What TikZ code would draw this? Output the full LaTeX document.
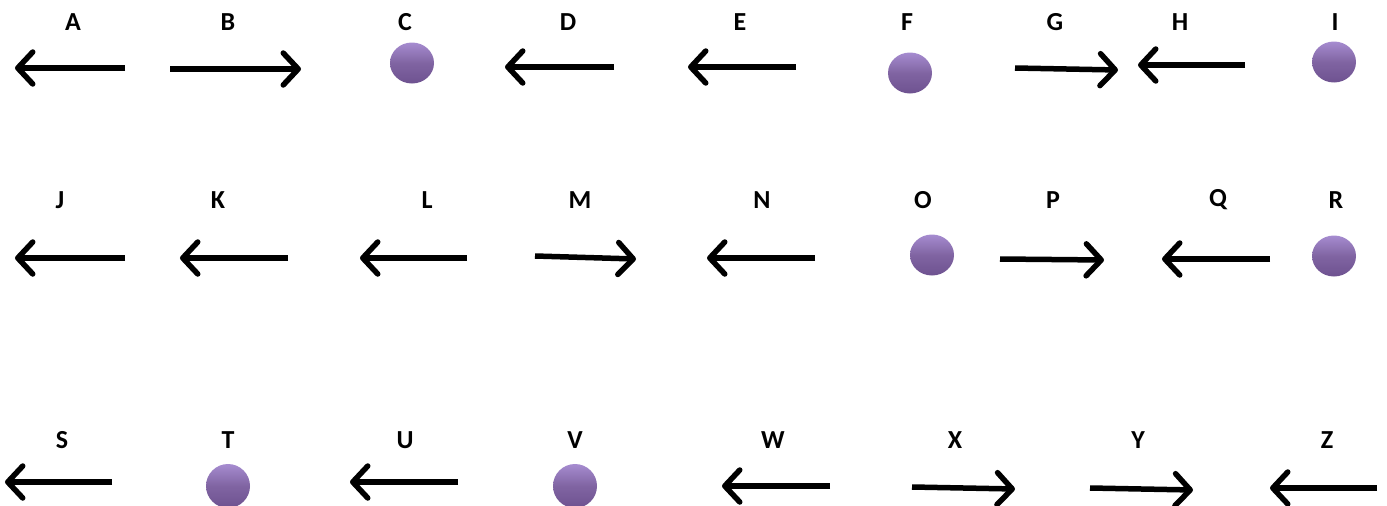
\documentclass[tikz,border=0pt]{standalone}
\usepackage{fontspec}
\setmainfont{Carlito}
\usetikzlibrary{arrows.meta,shapes.geometric}
\definecolor{dotmid}{HTML}{8064A2}
\definecolor{dottop}{HTML}{A68CD0}
\definecolor{dotbot}{HTML}{6E5290}
\tikzset{
  lbl/.style={font=\bfseries\fontsize{26}{30}\selectfont, text=black, inner sep=0pt},
  arr/.style={line width=5.5pt, -{Straight Barb[length=15pt,width=32pt,line width=5.5pt,round]}},
  dot/.style={ellipse, minimum width=44pt, minimum height=41pt, inner sep=0pt,
    top color=dottop, bottom color=dotbot, middle color=dotmid, draw=none},
}
\begin{document}
\begin{tikzpicture}[x=1pt,y=-1pt]
\useasboundingbox (0,0) rectangle (1387,506);
% Row 1
\node[lbl] (A) at (73,22) {A};
\coordinate (a1) at (125,68); \coordinate (a2) at (15,68);
\draw[arr] (a1) -- (a2);
\node[lbl] (B) at (228,22) {B};
\coordinate (b1) at (170,69); \coordinate (b2) at (301,69);
\draw[arr] (b1) -- (b2);
\node[lbl] (C) at (405,22) {C};
\node[dot] (c) at (412,63) {};
\node[lbl] (D) at (568,22) {D};
\coordinate (d1) at (614,67); \coordinate (d2) at (505,67);
\draw[arr] (d1) -- (d2);
\node[lbl] (E) at (740,22) {E};
\coordinate (e1) at (796,67); \coordinate (e2) at (688,67);
\draw[arr] (e1) -- (e2);
\node[lbl] (F) at (907,22) {F};
\node[dot] (f) at (910,73) {};
\node[lbl] (G) at (1055,22) {G};
\coordinate (g1) at (1015,68); \coordinate (g2) at (1118,70);
\draw[arr] (g1) -- (g2);
\node[lbl] (H) at (1180,22) {H};
\coordinate (h1) at (1245,65); \coordinate (h2) at (1138,65);
\draw[arr] (h1) -- (h2);
\node[lbl] (I) at (1335,22) {I};
\node[dot] (i) at (1334,62) {};
% Row 2
\node[lbl] (J) at (60,200) {J};
\coordinate (j1) at (125,258); \coordinate (j2) at (15,258);
\draw[arr] (j1) -- (j2);
\node[lbl] (K) at (218,200) {K};
\coordinate (k1) at (288,258); \coordinate (k2) at (180,258);
\draw[arr] (k1) -- (k2);
\node[lbl] (L) at (427,200) {L};
\coordinate (l1) at (467,258); \coordinate (l2) at (360,258);
\draw[arr] (l1) -- (l2);
\node[lbl] (M) at (580,200) {M};
\coordinate (m1) at (535,256); \coordinate (m2) at (636,259);
\draw[arr] (m1) -- (m2);
\node[lbl] (N) at (762,200) {N};
\coordinate (n1) at (815,258); \coordinate (n2) at (707,258);
\draw[arr] (n1) -- (n2);
\node[lbl] (O) at (923,200) {O};
\node[dot] (o) at (932,255) {};
\node[lbl] (P) at (1053,200) {P};
\coordinate (p1) at (1000,259); \coordinate (p2) at (1104,260);
\draw[arr] (p1) -- (p2);
\node[lbl] (Q) at (1218,200) {Q};
\coordinate (q1) at (1270,259); \coordinate (q2) at (1162,259);
\draw[arr] (q1) -- (q2);
\node[lbl] (R) at (1336,200) {R};
\node[dot] (r) at (1334,256) {};
% Row 3
\node[lbl] (S) at (62,440) {S};
\coordinate (s1) at (112,482); \coordinate (s2) at (5,482);
\draw[arr] (s1) -- (s2);
\node[lbl] (T) at (228,440) {T};
\node[dot, minimum width=44pt, minimum height=44pt] (t) at (228,486) {};
\node[lbl] (U) at (405,440) {U};
\coordinate (u1) at (458,482); \coordinate (u2) at (350,482);
\draw[arr] (u1) -- (u2);
\node[lbl] (V) at (575,440) {V};
\node[dot, minimum width=44pt, minimum height=44pt] (v) at (575,486) {};
\node[lbl] (W) at (773,440) {W};
\coordinate (w1) at (830,486); \coordinate (w2) at (722,486);
\draw[arr] (w1) -- (w2);
\node[lbl] (X) at (955,440) {X};
\coordinate (x1) at (912,487); \coordinate (x2) at (1015,489);
\draw[arr] (x1) -- (x2);
\node[lbl] (Y) at (1138,440) {Y};
\coordinate (y1) at (1090,488); \coordinate (y2) at (1193,490);
\draw[arr] (y1) -- (y2);
\node[lbl] (Z) at (1327,440) {Z};
\coordinate (z1) at (1377,488); \coordinate (z2) at (1270,488);
\draw[arr] (z1) -- (z2);
\end{tikzpicture}
\end{document}
